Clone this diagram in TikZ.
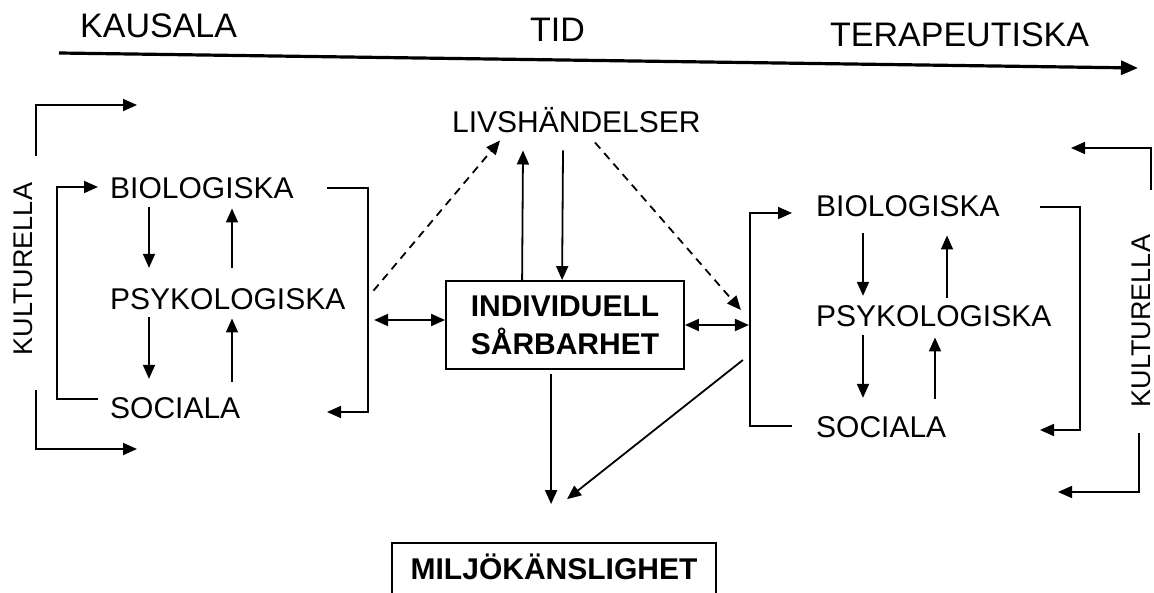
\documentclass[tikz,border=0pt]{standalone}
\usepackage{fontspec}
\setmainfont{Liberation Sans}
\usetikzlibrary{arrows.meta,calc}
\begin{document}
\begin{tikzpicture}[x=1pt,y=-1pt,
  lab/.style={inner sep=0pt,font=\fontsize{30}{30}\selectfont},
  big/.style={inner sep=0pt,font=\fontsize{34}{34}\selectfont},
  kul/.style={inner sep=0pt,font=\fontsize{27}{27}\selectfont,rotate=90},
  boldbox/.style={draw,line width=1.8pt,inner sep=0pt,align=center,font=\fontsize{30}{38}\selectfont\bfseries},
  ln/.style={line width=1.8pt},
  arr/.style={ln,-{Triangle[length=14pt,width=12pt]}},
  darr/.style={ln,{Triangle[length=14pt,width=12pt]}-{Triangle[length=14pt,width=12pt]}},
  dasharr/.style={arr,dash pattern=on 8pt off 6pt}
]
\useasboundingbox (0,0) rectangle (1154,593);

% top time axis
\node[big,anchor=base west] (kausala) at (80,38) {KAUSALA};
\node[big,anchor=base west] (tid) at (530,42) {TID};
\node[big,anchor=base west] (terap) at (830,47) {TERAPEUTISKA};
\coordinate (tstart) at (59,53);
\coordinate (tend) at (1138,68);
\draw[line width=3.2pt,-{Triangle[length=17pt,width=14pt]}] (tstart) -- (tend);

% left block
\node[kul] (lkul) at (23,269) {KULTURELLA};
\node[lab,anchor=base west] (lbio) at (110,199) {BIOLOGISKA};
\node[lab,anchor=base west] (lpsy) at (110,310) {PSYKOLOGISKA};
\node[lab,anchor=base west] (lsoc) at (110,418) {SOCIALA};

\coordinate (lta) at (36,156);
\coordinate (ltb) at (137,105);
\draw[arr] (lta) |- (ltb);
\coordinate (lba) at (36,390);
\coordinate (lbb) at (137,449);
\draw[arr] (lba) |- (lbb);

\coordinate (lib1) at (98,399);
\coordinate (lib2) at (98,187);
\draw[arr] (lib1) -- ++(-41,0) |- (lib2);
\coordinate (lrb1) at (327,188);
\coordinate (lrb2) at (327,412);
\draw[arr] (lrb1) -- ++(41,0) |- (lrb2);

\draw[arr] ($(lbio.south west)+(39,8)$) -- ($(lpsy.north west)+(39,-21)$);
\draw[arr] ($(lpsy.south west)+(39,7)$) -- ($(lsoc.north west)+(39,-18)$);
\draw[arr] ($(lpsy.north west)+(122,-21)$) -- ($(lbio.south west)+(122,9)$);
\draw[arr] ($(lsoc.north west)+(122,-15)$) -- ($(lpsy.south west)+(122,8)$);

% centre
\node[lab,anchor=base west] (liv) at (452,133) {LIVSHÄNDELSER};
\node[boldbox,minimum width=238pt,minimum height=88pt] (ind) at (565,325) {INDIVIDUELL\\SÅRBARHET};
\node[draw,line width=1.8pt,inner sep=0pt,font=\fontsize{30}{30}\selectfont\bfseries,
      text height=21.5pt,text depth=0pt,minimum width=324pt,minimum height=52pt] (milj) at (554,569) {MILJÖKÄNSLIGHET};

\draw[darr] ($(ind.west)+(-71,-5)$) -- ($(ind.west)+(0,-5)$);
\draw[darr] (ind.east) -- ($(ind.east)+(64,0)$);
\draw[arr] ($(ind.north west)+(77,0)$) -- ($(liv.south west)+(71,17)$);
\draw[arr] ($(liv.south west)+(111,17)$) -- ($(ind.north west)+(117,0)$);
\draw[dasharr] ($(lpsy.east)+(28,-9)$) -- ($(liv.south west)+(48,7)$);
\draw[dasharr] ($(liv.south west)+(143,9)$) -- ($(ind.east)+(56,-15)$);
\draw[arr] ($(ind.south west)+(106,4)$) -- ($(milj.north west)+(160,-38)$);
\draw[arr] ($(ind.east)+(58,35)$) -- ($(milj.north west)+(176,-43)$);

% right block
\node[kul] (rkul) at (1141,321) {KULTURELLA};
\node[lab,anchor=base west] (rbio) at (816,217) {BIOLOGISKA};
\node[lab,anchor=base west] (rpsy) at (816,327) {PSYKOLOGISKA};
\node[lab,anchor=base west] (rsoc) at (816,437) {SOCIALA};

\coordinate (rib1) at (792,426);
\coordinate (rib2) at (792,213);
\draw[arr] (rib1) -- ++(-42,0) |- (rib2);
\coordinate (rrb1) at (1040,207);
\coordinate (rrb2) at (1040,430);
\draw[arr] (rrb1) -- ++(40,0) |- (rrb2);

\coordinate (rta) at (1151,190);
\coordinate (rtb) at (1071,148);
\draw[arr] (rta) |- (rtb);
\coordinate (rba) at (1139,433);
\coordinate (rbb) at (1058,492);
\draw[arr] (rba) |- (rbb);

\draw[arr] ($(rbio.south west)+(47,16)$) -- ($(rpsy.north west)+(47,-10)$);
\draw[arr] ($(rpsy.south west)+(47,8)$) -- ($(rsoc.north west)+(47,-18)$);
\draw[arr] ($(rpsy.north west)+(131,-8)$) -- ($(rbio.south west)+(131,18)$);
\draw[arr] ($(rsoc.north west)+(119,-17)$) -- ($(rpsy.south west)+(119,10)$);
\end{tikzpicture}
\end{document}
